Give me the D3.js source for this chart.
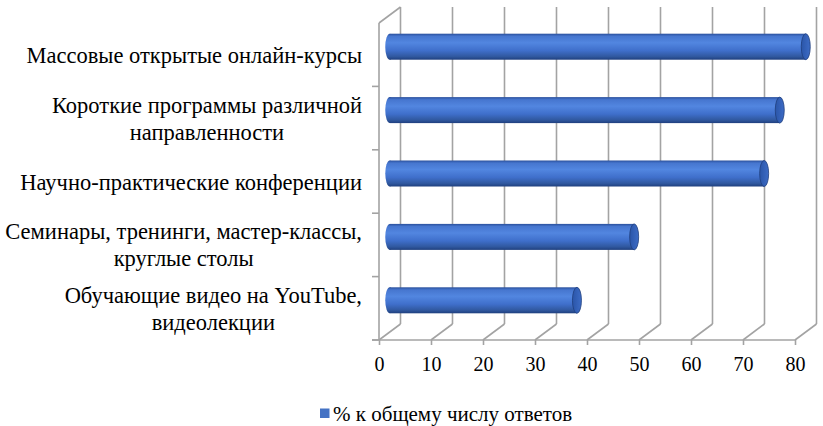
<!DOCTYPE html>
<html>
<head>
<meta charset="utf-8">
<script src="https://cdn.jsdelivr.net/npm/d3@7"></script>
<style>
	body { margin: 0; background: #fff; }
	svg { display: block; }
</style>
</head>
<body>
<svg></svg>
<script>
// categories top to bottom, lines split for wrapping
const categories = [
	["Массовые открытые онлайн-курсы"],
	["Короткие программы различной", "направленности"],
	["Научно-практические конференции"],
	["Семинары, тренинги, мастер-классы,", "круглые столы"],
	["Обучающие видео на YouTube,", "видеолекции"]
]
const values = [80, 75, 72, 47, 36]
const xTicks = [0, 10, 20, 30, 40, 50, 60, 70, 80]
const seriesName = "% к общему числу ответов"

const serif = '"Liberation Serif"'

const svg = d3.select("svg")
	.attr("width", 823)
	.attr("height", 426)

// front plane of the 3d box + depth offset
const plotLeft = 379, plotRight = 795, plotTop = 23, plotFloor = 340
const dx = 21.5, dy = -16

const scaleX = d3.scaleLinear()
	.domain([0, 80])
	.range([plotLeft, plotRight])

const scaleY = d3.scaleBand()
	.domain(d3.range(categories.length))
	.range([plotTop, plotFloor])

const grid = "#a3a3a3"

// back wall gridlines and floor diagonals
const walls = svg.append("g")
	.attr("stroke", grid)
	.attr("stroke-width", 1.6)
	.attr("fill", "none")

walls.selectAll("line.back")
	.data(xTicks)
	.enter()
	.append("line")
	.attr("class", "back")
	.attr("x1", d => scaleX(d) + dx)
	.attr("x2", d => scaleX(d) + dx)
	.attr("y1", plotTop + dy)
	.attr("y2", plotFloor + dy)

walls.selectAll("line.diag")
	.data(xTicks)
	.enter()
	.append("line")
	.attr("class", "diag")
	.attr("x1", d => scaleX(d))
	.attr("x2", d => scaleX(d) + dx)
	.attr("y1", plotFloor)
	.attr("y2", plotFloor + dy)

// left wall
walls.append("line")
	.attr("x1", plotLeft).attr("x2", plotLeft)
	.attr("y1", plotTop).attr("y2", plotFloor)
walls.append("line")
	.attr("x1", plotLeft).attr("x2", plotLeft + dx)
	.attr("y1", plotTop).attr("y2", plotTop + dy)

// category ticks on the left wall
const bounds = d3.range(1, categories.length).map(i => scaleY(i)).concat([plotFloor])
walls.selectAll("line.ctick")
	.data(bounds)
	.enter()
	.append("line")
	.attr("class", "ctick")
	.attr("x1", plotLeft - 7)
	.attr("x2", plotLeft)
	.attr("y1", d => d)
	.attr("y2", d => d)

// floor line
walls.append("line")
	.attr("x1", plotLeft - 7).attr("x2", plotRight)
	.attr("y1", plotFloor).attr("y2", plotFloor)

// x axis: tick marks and labels
const axis = svg.append("g")
	.attr("transform", `translate(0,${plotFloor})`)
	.call(d3.axisBottom(scaleX).tickValues(xTicks).tickSize(5).tickSizeOuter(0).tickPadding(12))

axis.select(".domain").remove()
axis.selectAll(".tick line").attr("stroke", grid).attr("stroke-width", 1.6)
axis.selectAll(".tick text")
	.style("font-family", serif)
	.style("font-size", "20px")
	.attr("fill", "#000")

// cylinder shading
const defs = svg.append("defs")
const grad = defs.append("linearGradient")
	.attr("id", "cyl")
	.attr("x1", 0).attr("y1", 0).attr("x2", 0).attr("y2", 1)
const stops = [[0, "#2a509c"], [0.1, "#4676cf"], [0.35, "#5286e0"], [0.65, "#3f6fcb"], [0.88, "#30589f"], [1, "#1f3f7e"]]
grad.selectAll("stop")
	.data(stops)
	.enter()
	.append("stop")
	.attr("offset", d => d[0])
	.attr("stop-color", d => d[1])

const capGrad = defs.append("linearGradient")
	.attr("id", "cap")
	.attr("x1", 0).attr("y1", 0).attr("x2", 1).attr("y2", 0)
capGrad.append("stop").attr("offset", 0).attr("stop-color", "#2a55a8")
capGrad.append("stop").attr("offset", 1).attr("stop-color", "#3d6cc6")

const barH = 26, rx = 4.5

const bars = svg.selectAll("g.bar")
	.data(values)
	.enter()
	.append("g")
	.attr("class", "bar")
	.attr("transform", (d, i) => {
		const y = scaleY(i) + scaleY.bandwidth() / 2 + dy / 2
		return `translate(${dx / 2},${y})`
	})

bars.append("ellipse")
	.attr("cx", scaleX(0))
	.attr("cy", 0)
	.attr("rx", rx)
	.attr("ry", barH / 2)
	.attr("fill", "url(#cyl)")

bars.append("rect")
	.attr("x", scaleX(0))
	.attr("y", -barH / 2)
	.attr("width", d => scaleX(d) - scaleX(0))
	.attr("height", barH)
	.attr("fill", "url(#cyl)")

bars.append("ellipse")
	.attr("cx", d => scaleX(d))
	.attr("cy", 0)
	.attr("rx", rx)
	.attr("ry", barH / 2)
	.attr("fill", "url(#cap)")
	.attr("stroke", "#1f3f7e")
	.attr("stroke-width", 0.8)

// category labels: block right aligned, lines centred inside
const lineH = 27
const labels = svg.selectAll("text.cat")
	.data(categories)
	.enter()
	.append("text")
	.attr("class", "cat")
	.style("font-family", serif)
	.style("font-size", "22.5px")
	.attr("fill", "#000")
	.attr("text-anchor", "middle")

labels.each(function (lines, i) {
	const t = d3.select(this)
	const cy = scaleY(i) + scaleY.bandwidth() / 2
	const y0 = cy - (lines.length - 1) * lineH / 2 + 8
	lines.forEach((line, j) => {
		t.append("tspan").attr("y", y0 + j * lineH).text(line)
	})
	let w = 0
	t.selectAll("tspan").each(function () { w = Math.max(w, this.getComputedTextLength()) })
	t.selectAll("tspan").attr("x", 362 - w / 2)
})

// legend
const legend = svg.append("g")
	.attr("transform", "translate(320,408.5)")
legend.append("rect")
	.attr("width", 9.5)
	.attr("height", 9.5)
	.attr("fill", "#4472c4")
legend.append("text")
	.attr("x", 13)
	.attr("y", 12.5)
	.style("font-family", serif)
	.style("font-size", "21px")
	.attr("fill", "#000")
	.text(seriesName)
</script>
</body>
</html>
